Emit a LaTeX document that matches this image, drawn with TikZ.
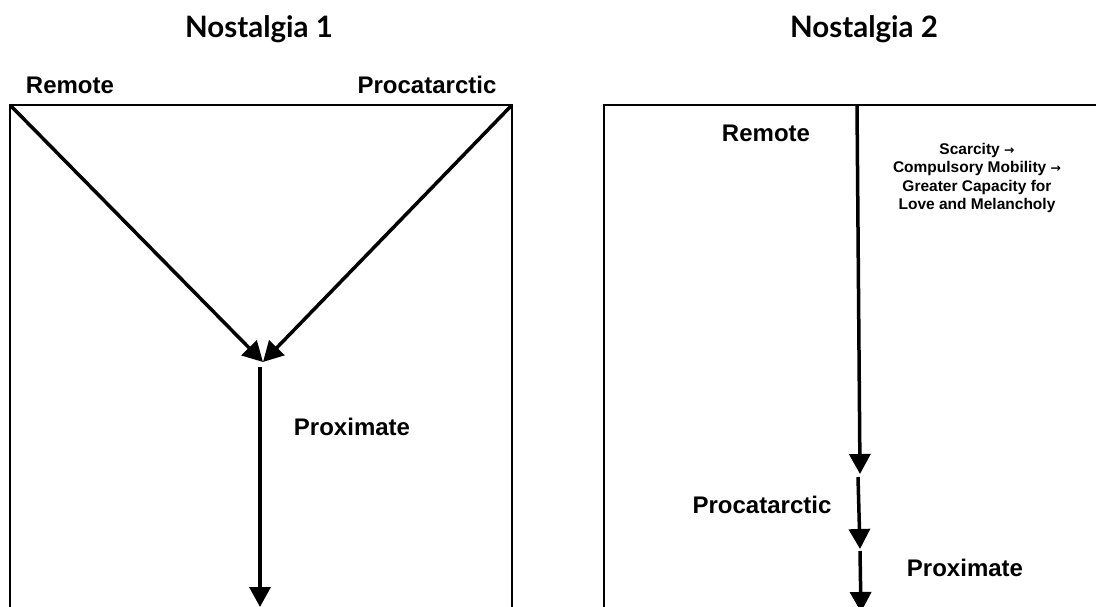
\documentclass[tikz,border=0pt]{standalone}
\usepackage{fontspec}
\setmainfont{Liberation Sans}
\newfontfamily\titlefont{Lato}
\newfontfamily\arrowfont{DejaVu Sans}
\newcommand{\smallarr}{{\arrowfont\bfseries\scalebox{0.8}{→}}}
\usetikzlibrary{arrows.meta}
\tikzset{
  frame/.style={line width=1.5pt, draw=black},
  arr/.style={line width=3.5pt, -{Triangle[width=21pt,length=20pt]}},
  lbl/.style={font=\fontsize{24}{28}\selectfont\bfseries, inner sep=0pt},
  small/.style={font=\fontsize{15.5}{18.5}\selectfont\bfseries, inner sep=0pt, align=center},
  ttl/.style={font=\titlefont\fontsize{29.5}{34}\selectfont\bfseries, inner sep=0pt, anchor=base}
}
\begin{document}
\begin{tikzpicture}[x=1pt,y=-1pt]
\useasboundingbox (0,0) rectangle (1096,607);
\clip (0,0) rectangle (1096,607);
% titles
\node[ttl] (t1) at (259,38) {Nostalgia 1};
\node[ttl] (t2) at (864,38) {Nostalgia 2};
% left frame
\coordinate (LTL) at (10,105);
\coordinate (LTR) at (512,105);
\coordinate (LBL) at (10,620);
\coordinate (LBR) at (512,620);
\draw[frame] (LBL) -- (LTL) -- (LTR) -- (LBR);
\coordinate (M) at (263,362);
\draw[arr] (LTL) -- (M);
\draw[arr] (LTR) -- (M);
\coordinate (V1) at (260,367);
\coordinate (V2) at (260,607);
\draw[arr] (V1) -- (V2);
\node[lbl] (rem1) at (70,85) {Remote};
\node[lbl] (pro1) at (427,85) {Procatarctic};
\node[lbl] (prox1) at (352,427) {Proximate};
% right frame
\coordinate (RTL) at (604,105);
\coordinate (RTR) at (1110,105);
\coordinate (RBL) at (604,620);
\draw[frame] (RBL) -- (RTL) -- (RTR);
\coordinate (A0) at (857,105);
\coordinate (A1) at (860,474);
\coordinate (B0) at (858,477);
\coordinate (B1) at (860,549);
\coordinate (C0) at (860,551);
\coordinate (C1) at (861,612);
\draw[arr] (A0) -- (A1);
\draw[arr] (B0) -- (B1);
\draw[arr] (C0) -- (C1);
\node[lbl] (rem2) at (766,133) {Remote};
\node[small] (chain) at (977,178) {Scarcity \smallarr\\Compulsory Mobility \smallarr\\Greater Capacity for\\Love and Melancholy};
\node[lbl] (pro2) at (762,505) {Procatarctic};
\node[lbl] (prox2) at (965,568) {Proximate};
\end{tikzpicture}
\end{document}
